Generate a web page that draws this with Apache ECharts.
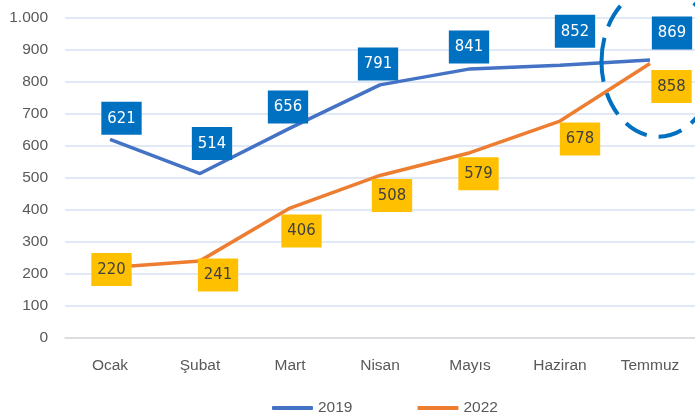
<!DOCTYPE html>
<html><head><meta charset="utf-8">
<script src="https://cdn.jsdelivr.net/npm/echarts@6/dist/echarts.min.js"></script>
<style>html,body{margin:0;padding:0;background:#fff}#c{width:695px;height:419px}</style>
</head><body><div id="c"></div>
<script>
var categories = ['Ocak','Şubat','Mart','Nisan','Mayıs','Haziran','Temmuz'];
var values2019 = [621,514,656,791,841,852,869];
var values2022 = [220,241,406,508,579,678,858];

var AXF = '"Liberation Sans",Arial,sans-serif';
var LBF = '"DejaVu Sans Condensed","Liberation Sans",sans-serif';
var chart = echarts.init(document.getElementById('c'));

// label offsets (style only)
var off2019 = [[11.5,-21],[12,-30],[-2,-21],[-2,-21],[-1,-22],[15,-34],[22,-27]];
var off2022 = [[1.5,2],[18,14],[11.5,23],[12,20],[8.5,21],[20,18],[21.5,23]];

function mk(vals, offs){
  return vals.map(function(v,i){
    return {value:v, label:{offset:offs[i]}};
  });
}

var fmt = function(v){ return v>=1000 ? String(v).replace(/(\d)(?=(\d{3})+$)/,'$1.') : String(v); };

chart.setOption({
  animation:false,
  textStyle:{fontFamily:AXF},
  grid:{left:65,right:-4,top:18,bottom:81},
  legend:{
    top:400, left:272, padding:0, itemGap:65, itemWidth:41, itemHeight:4,
    textStyle:{fontFamily:AXF,fontSize:15.5,color:'#595959'},
    icon:'roundRect',
    data:['2019','2022']
  },
  xAxis:{
    type:'category', data:categories, boundaryGap:true,
    axisLine:{lineStyle:{color:'#d9d9d9',width:1.5}},
    axisTick:{show:false},
    axisLabel:{fontFamily:AXF,fontSize:15.5,color:'#595959',margin:20}
  },
  yAxis:{
    type:'value', min:0, max:1000, interval:100,
    axisLine:{show:false}, axisTick:{show:false},
    splitLine:{lineStyle:{color:'#d9e2f3',width:1.5}},
    axisLabel:{fontFamily:AXF,fontSize:15.5,color:'#595959',margin:17,formatter:fmt}
  },
  series:[
    {name:'2019',type:'line',data:mk(values2019,off2019),showSymbol:true,symbol:'circle',symbolSize:0,
     lineStyle:{color:'#4472C4',width:3.5},itemStyle:{color:'#4472C4'},
     label:{show:true,position:'inside',backgroundColor:'#0070C0',color:'#fff',
       fontFamily:LBF,fontSize:16.5,lineHeight:20,padding:[7,6,6,6]}},
    {name:'2022',type:'line',data:mk(values2022,off2022),showSymbol:true,symbol:'circle',symbolSize:0,
     lineStyle:{color:'#ED7D31',width:3.5},itemStyle:{color:'#ED7D31'},
     label:{show:true,position:'inside',backgroundColor:'#FFC000',color:'#404040',
       fontFamily:LBF,fontSize:16.5,lineHeight:20,padding:[7,6,6,6]}}
  ]
});

var p = chart.convertToPixel({xAxisIndex:0,yAxisIndex:0},['Temmuz',(values2019[6]+values2022[6])/2]);
chart.setOption({graphic:[{
  type:'ellipse', shape:{cx:p[0]+8.5,cy:p[1],rx:57,ry:75},
  style:{fill:null,stroke:'#0070C0',lineWidth:4,lineDash:[24,12]}, z:10
}]});
</script></body></html>
